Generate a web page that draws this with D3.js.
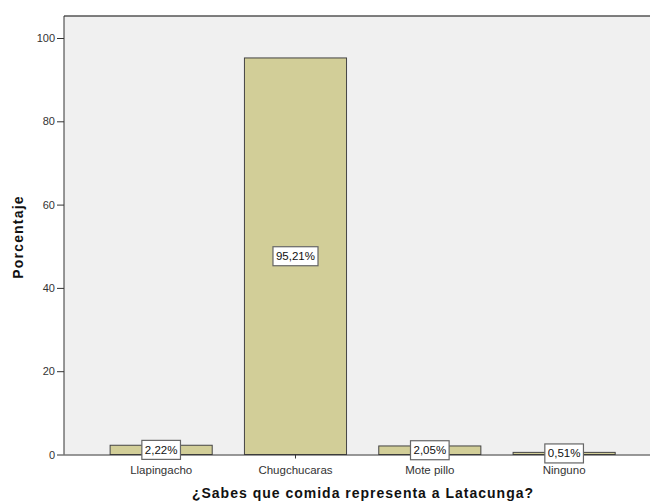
<!DOCTYPE html>
<html><head><meta charset="utf-8">
<script src="https://cdn.jsdelivr.net/npm/d3@7"></script>
<style>body{margin:0;background:#fff}svg{display:block}text{font-family:"Liberation Sans",Arial,sans-serif}</style>
</head><body>
<svg id="c" width="650" height="502"></svg>
<script>
const categories = ["Llapingacho", "Chugchucaras", "Mote pillo", "Ninguno"];
const values = [2.22, 95.21, 2.05, 0.51];
const valueLabels = ["2,22%", "95,21%", "2,05%", "0,51%"];
const yTicks = [0, 20, 40, 60, 80, 100];
const xTitle = "¿Sabes que comida representa a Latacunga?";
const yTitle = "Porcentaje";

const svg = d3.select("#c");
const plotL = 64, plotT = 16, plotR = 661, plotB = 454.5;
const y = d3.scaleLinear().domain([0, 100]).range([plotB, 38]);
const x = d3.scaleBand().domain(categories).range([94, 631.3]).paddingInner(0.24).paddingOuter(0.12);

svg.append("rect").attr("x", plotL).attr("y", plotT).attr("width", plotR - plotL).attr("height", plotB - plotT)
  .attr("fill", "#f0f0f0");
svg.append("line").attr("x1", plotL).attr("x2", plotR).attr("y1", plotT).attr("y2", plotT).attr("stroke", "#555").attr("stroke-width", 1.5);
svg.append("line").attr("x1", plotL).attr("x2", plotL).attr("y1", plotT).attr("y2", plotB).attr("stroke", "#333");

svg.selectAll("rect.bar").data(categories).join("rect").attr("class", "bar")
  .attr("x", d => x(d)).attr("width", x.bandwidth())
  .attr("y", (d, i) => y(values[i])).attr("height", (d, i) => plotB - y(values[i]))
  .attr("fill", "#d2ce98").attr("stroke", "#444").attr("stroke-width", 1);

const ya = svg.append("g").attr("transform", `translate(${plotL},0)`)
  .call(d3.axisLeft(y).tickValues(yTicks).tickSize(7).tickSizeOuter(0).tickPadding(2));
ya.select(".domain").remove();
ya.selectAll("line").attr("stroke", "#333");
ya.selectAll("text").attr("font-size", 11).attr("fill", "#333");

const xa = svg.append("g").attr("transform", `translate(0,${plotB})`)
  .call(d3.axisBottom(x).tickSize(4).tickSizeOuter(0).tickPadding(7));
xa.select(".domain").attr("d", `M${plotL},0.5H${plotR}`).attr("stroke", "#333");
xa.selectAll("line").attr("stroke", "#333");
xa.selectAll("text").attr("font-size", 11.5).attr("fill", "#333");

const lg = svg.selectAll("g.lab").data(categories).join("g").attr("class", "lab");
lg.each(function (d, i) {
  const g = d3.select(this);
  const cx = x(d) + x.bandwidth() / 2;
  const cy = (y(values[i]) + plotB) / 2;
  const t = g.append("text").attr("x", cx).attr("y", cy).attr("text-anchor", "middle")
    .attr("dominant-baseline", "central").attr("font-size", 11.5).attr("fill", "#111").text(valueLabels[i]);
  const bb = t.node().getBBox();
  g.insert("rect", "text").attr("x", cx - bb.width / 2 - 3).attr("y", cy - 9.5)
    .attr("width", bb.width + 6).attr("height", 19).attr("fill", "#fff").attr("stroke", "#666").attr("stroke-width", 1.2);
});

svg.append("text").attr("x", 363).attr("y", 498).attr("text-anchor", "middle")
  .attr("font-size", 14).attr("letter-spacing", 1).attr("font-weight", "bold").attr("fill", "#111").text(xTitle);
svg.append("text").attr("transform", "translate(23,237) rotate(-90)").attr("text-anchor", "middle")
  .attr("font-size", 14).attr("letter-spacing", 1.2).attr("font-weight", "bold").attr("fill", "#111").text(yTitle);
</script>
</body></html>
